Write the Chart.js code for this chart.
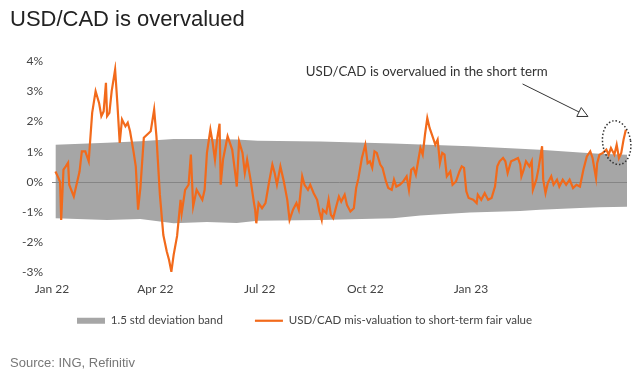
<!DOCTYPE html>
<html>
<head>
<meta charset="utf-8">
<script src="https://cdn.jsdelivr.net/npm/chart.js@4.4.0/dist/chart.umd.min.js"></script>
<style>
  html, body { margin: 0; padding: 0; background: #fff; }
  #wrap { width: 643px; height: 374px; }
</style>
</head>
<body>
<div id="wrap"><canvas id="graficaCad"></canvas></div>
<script>
// dias desde el 1 de enero de 2022
const lineDays = [3, 5, 7, 8, 10, 12, 14, 15, 19, 22, 24, 26, 29, 32, 33, 35, 38, 41, 43, 45,
  47, 48, 50, 52, 55, 57, 59, 61, 64, 66, 68, 71, 73, 75, 77, 80, 83, 86, 89, 91,
  94, 97, 100, 102, 104, 106, 109, 112, 113, 116, 119, 121, 123, 126, 131, 133, 135, 138, 140, 142,
  144, 146, 147, 149, 153, 157, 160, 161, 163, 166, 168, 170, 173, 176, 177, 178, 180, 183, 186, 189,
  192, 194, 196, 199, 202, 205, 207, 210, 213, 215, 218, 220, 223, 225, 228, 231, 233, 235, 236, 239,
  241, 243, 245, 248, 250, 252, 255, 257, 260, 263, 265, 267, 270, 273, 275, 277, 279, 281, 283, 286,
  288, 291, 293, 296, 298, 300, 303, 306, 309, 311, 313, 315, 317, 319, 321, 323, 325, 327, 329, 332,
  334, 336, 338, 340, 342, 344, 347, 349, 352, 355, 357, 359, 361, 363, 367, 370, 371, 374, 377, 380,
  383, 386, 388, 390, 393, 395, 397, 400, 403, 406, 408, 409, 411, 413, 416, 418, 419, 422, 424, 427,
  428, 430, 432, 435, 437, 440, 442, 445, 448, 451, 454, 457, 460, 463, 466, 469, 471, 474, 475, 477,
  480, 483, 485, 487, 490, 492, 494, 496, 498, 500];
const lineValues = [0.34, 0.18, 0.0, -1.27, 0.4, 0.51, 0.63, -0.1, -0.49, 0.01, 0.34, 1.01, 1.01, 0.68, 1.23, 2.29, 3.01, 2.62, 2.18, 2.34,
  3.29, 2.18, 2.29, 3.01, 3.73, 2.57, 1.29, 2.07, 1.84, 1.96, 1.68, 1.01, 0.51, -0.93, -0.21, 1.46, 1.57, 1.68, 2.4, 1.51,
  -0.43, -1.77, -2.32, -2.6, -2.99, -2.43, -1.8, -0.6, -1.04, -0.27, -0.1, 0.9, -0.82, -0.27, -0.6, -0.27, 0.96, 1.73, 1.29, 0.73,
  1.46, 1.93, -0.1, 0.73, 1.51, 1.07, 0.18, -0.16, 1.34, 0.96, 0.29, 0.73, 0.07, -0.71, -0.93, -1.38, -0.71, -0.88, -0.71, -0.04,
  0.57, 0.29, -0.1, 0.51, 0.01, -0.6, -1.27, -0.93, -0.71, -0.93, 0.18, -0.1, -0.27, -0.1, -0.38, -0.6, -0.99, -1.27, -0.93, -1.04,
  -0.6, -1.1, -1.21, -0.77, -0.49, -0.66, -0.43, -0.77, -0.99, -0.88, -0.21, 0.12, 0.79, 1.23, 0.62, 0.68, 0.46, 1.01, 0.96, 0.57,
  0.46, 0.01, -0.21, -0.27, 0.07, -0.16, -0.1, 0.01, 0.18, -0.27, 0.4, 0.46, 0.23, 0.68, 1.12, 0.9, 1.57, 2.12, 1.79, 1.46,
  1.23, 1.4, 0.62, 0.96, 0.9, 0.18, 0.34, -0.1, 0.01, 0.34, 0.51, 0.46, -0.32, -0.54, -0.6, -0.71, -0.43, -0.6, -0.38, -0.6,
  -0.54, -0.16, 0.51, 0.68, 0.79, 0.68, 0.29, 0.68, 0.73, 0.79, 0.57, 0.18, 0.4, 0.68, 0.51, 0.68, -0.27, 0.07, 0.46, 1.18,
  0.07, -0.38, -0.04, 0.18, -0.1, 0.07, -0.16, 0.07, -0.1, 0.07, -0.21, -0.1, -0.16, 0.4, 0.84, 1.01, 0.79, 0.12, 0.62, 0.9,
  0.96, 1.07, 0.9, 1.12, 0.9, 1.23, 0.79, 0.96, 1.4, 1.73];

const bandDays = [3, 48, 77, 106, 135, 161, 179, 234, 297, 321, 364, 408, 425, 460, 477, 501];
const bandUpper = [1.23, 1.3, 1.35, 1.42, 1.42, 1.4, 1.36, 1.34, 1.27, 1.24, 1.18, 1.1, 1.06, 0.97, 0.93, 0.9];
const bandLower = [-1.21, -1.27, -1.24, -1.38, -1.34, -1.37, -1.3, -1.27, -1.21, -1.12, -1.02, -0.97, -0.93, -0.87, -0.85, -0.83];

const xTickDays = [0, 90, 181, 273, 365];
const xTickLabels = ['Jan 22', 'Apr 22', 'Jul 22', 'Oct 22', 'Jan 23'];
const seriesNames = ['USD/CAD mis-valuation to short-term fair value', '1.5 std deviation band'];

const noteText = 'USD/CAD is overvalued in the short term';
const notePos = [221, 3.67];
const arrowFrom = [410, 3.25];
const arrowTo = [467, 2.17];
const circleAt = [492, 1.3];

const naranja = '#f26a1b';
const gris = '#a6a6a6';
const fuente = 'Lato';

function puntos(dias, valores) {
    return dias.map((d, i) => ({ x: d, y: valores[i] }));
}

const ajustes = {
    id: 'ajustes',
    afterUpdate(chart) {
        // leyenda un poco mas arriba y a la izquierda, como en el original
        const legend = chart.legend;
        legend.left = 45;
        legend.right = chart.width;
        legend.top = 283;
        legend.bottom = legend.top + 52;
    },
    beforeDatasetDraw(chart, args) {
        if (args.index !== 0) return;
        const { ctx, chartArea, scales } = chart;
        const y0 = Math.round(scales.y.getPixelForValue(0)) + 0.5;
        ctx.save();
        ctx.strokeStyle = '#858585';
        ctx.lineWidth = 1;
        ctx.beginPath();
        ctx.moveTo(chartArea.left, y0);
        ctx.lineTo(chartArea.right, y0);
        ctx.stroke();
        ctx.restore();
    },
    afterDraw(chart) {
        const { ctx, scales } = chart;
        const px = v => scales.x.getPixelForValue(v);
        const py = v => scales.y.getPixelForValue(v);
        ctx.save();
        ctx.fillStyle = '#333';
        ctx.font = '13.3px ' + fuente;
        ctx.textBaseline = 'middle';
        ctx.fillText(noteText, px(notePos[0]), py(notePos[1]));

        // flecha
        const x1 = px(arrowFrom[0]), y1 = py(arrowFrom[1]);
        const x2 = px(arrowTo[0]), y2 = py(arrowTo[1]);
        const ang = Math.atan2(y2 - y1, x2 - x1);
        const largo = 10, ancho = 5;
        const bx = x2 - largo * Math.cos(ang), by = y2 - largo * Math.sin(ang);
        ctx.strokeStyle = '#333';
        ctx.lineWidth = 1;
        ctx.beginPath();
        ctx.moveTo(x1, y1);
        ctx.lineTo(bx, by);
        ctx.stroke();
        ctx.beginPath();
        ctx.moveTo(x2, y2);
        ctx.lineTo(bx + ancho * Math.sin(ang), by - ancho * Math.cos(ang));
        ctx.lineTo(bx - ancho * Math.sin(ang), by + ancho * Math.cos(ang));
        ctx.closePath();
        ctx.fillStyle = '#fff';
        ctx.fill();
        ctx.stroke();

        // circulo punteado
        ctx.setLineDash([1.5, 2]);
        ctx.lineWidth = 1.5;
        ctx.beginPath();
        ctx.ellipse(px(circleAt[0]), py(circleAt[1]), 14, 22, -0.15, 0, 2 * Math.PI);
        ctx.stroke();
        ctx.restore();
    }
};

document.addEventListener('DOMContentLoaded', function () {
    const ctx = document.getElementById('graficaCad').getContext('2d');
    new Chart(ctx, {
        type: 'line',
        data: {
            datasets: [{
                label: seriesNames[0],
                data: puntos(lineDays, lineValues),
                borderColor: naranja,
                backgroundColor: naranja,
                borderWidth: 2.2,
                pointRadius: 0,
                pointStyle: 'line',
                tension: 0,
                fill: false
            }, {
                label: seriesNames[1],
                data: puntos(bandDays, bandUpper),
                borderWidth: 0,
                borderColor: gris,
                backgroundColor: gris,
                pointRadius: 0,
                pointStyle: 'rect',
                fill: '+1'
            }, {
                label: 'lower',
                data: puntos(bandDays, bandLower),
                borderWidth: 0,
                borderColor: gris,
                backgroundColor: gris,
                pointRadius: 0,
                fill: false
            }]
        },
        options: {
            responsive: true,
            maintainAspectRatio: false,
            animation: false,
            devicePixelRatio: 1,
            layout: { padding: { left: 10, right: 16, top: 0, bottom: 0 } },
            scales: {
                x: {
                    type: 'linear',
                    min: 0,
                    max: 501,
                    grid: { display: false, drawTicks: false },
                    border: { display: false },
                    afterBuildTicks: scale => { scale.ticks = xTickDays.map(v => ({ value: v })); },
                    ticks: {
                        autoSkip: false,
                        maxRotation: 0,
                        padding: 10,
                        color: '#444',
                        font: { family: fuente, size: 12 },
                        callback: (value, index) => xTickLabels[index]
                    }
                },
                y: {
                    min: -3,
                    max: 4,
                    grid: { display: false, drawTicks: false },
                    border: { display: false },
                    afterFit: scale => { scale.width = 42; },
                    ticks: {
                        stepSize: 1,
                        padding: 9,
                        color: '#444',
                        font: { family: fuente, size: 12 },
                        callback: value => value + '%'
                    }
                }
            },
            plugins: {
                tooltip: { enabled: false },
                title: {
                    display: true,
                    text: 'USD/CAD is overvalued',
                    align: 'start',
                    color: '#222',
                    font: { family: 'Liberation Sans', size: 22, weight: 'normal' },
                    padding: { top: 7, bottom: 28 }
                },
                subtitle: {
                    display: true,
                    text: 'Source: ING, Refinitiv',
                    position: 'bottom',
                    align: 'start',
                    color: '#777',
                    font: { family: 'Liberation Sans', size: 13 },
                    padding: { top: 7, bottom: 3 }
                },
                legend: {
                    position: 'bottom',
                    align: 'start',
                    maxHeight: 42,
                    labels: {
                        usePointStyle: true,
                        pointStyleWidth: 28,
                        boxHeight: 6,
                        padding: 32,
                        color: '#444',
                        font: { family: fuente, size: 11.5 },
                        filter: item => item.datasetIndex !== 2,
                        sort: (a, b) => b.datasetIndex - a.datasetIndex
                    }
                }
            }
        },
        plugins: [ajustes]
    });
});
</script>
</body>
</html>
